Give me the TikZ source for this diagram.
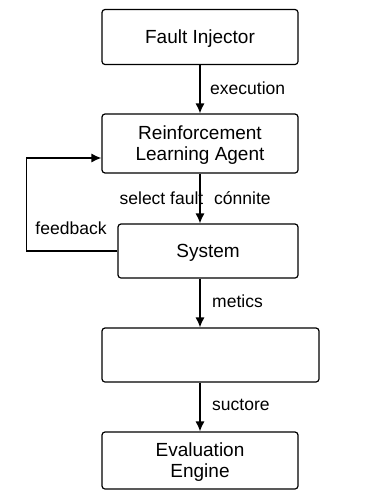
\documentclass[tikz,border=0pt]{standalone}
\usepackage{fontspec}
\setmainfont{Liberation Sans}
\usepackage{tikz}
\usetikzlibrary{arrows.meta}

\begin{document}
\begin{tikzpicture}[x=10bp, y=-10bp,
    box/.style={draw, line width=1.2bp, rounded corners=3bp, align=center, inner sep=0pt,
                text depth=0pt, font=\fontsize{19bp}{21bp}\selectfont},
    lbl/.style={inner sep=0pt, font=\fontsize{17.5bp}{20bp}\selectfont},
    flow/.style={-{Latex[length=10bp,width=9bp]}, line width=1.2bp}]
        \useasboundingbox (0,0) rectangle (37.4,49.4);                                               %
        \node [box, minimum width=196bp, minimum height=55bp] (fi)    at (20,3.7)   {Fault Injector};  %
        \node [box, minimum width=196bp, minimum height=59bp] (rl)    at (20,14.35) {Reinforcement\\Learning Agent};
        \node [box, minimum width=180bp, minimum height=54bp] (sys)   at (20.8,25.1) {System};        %
        \node [box, minimum width=217bp, minimum height=54bp] (blank) at (21.05,35.5) {};             %
        \node [box, minimum width=196bp, minimum height=57bp] (ev)    at (20,46.05) {Evaluation\\Engine};

        \node [lbl, anchor=west] (lexec) at (21,8.8)    {execution};                    %
        \node [lbl, anchor=east] (lsel)  at (20.35,19.8) {select fault};                %
        \node [lbl, anchor=west] (lcon)  at (21.4,19.8) {cónnite};                      %
        \node [lbl]              (lfb)   at (7.1,22.8)  {feedback};                     %
        \node [lbl, anchor=west] (lmet)  at (21.2,30.1) {metics};                       %
        \node [lbl, anchor=west] (lsco)  at (21.2,40.5) {suctore};                      %

        \draw [flow] (fi)   -- (rl);                                                   %execution
        \draw [flow] (rl)   -- (rl.south |- sys.north);                                %select fault
        \draw [flow] (sys.south -| rl.south) -- (blank.north -| rl.south);             %metrics
        \draw [flow] (blank.south -| rl.south) -- (ev);                                %score
        \draw [flow] (sys.west) -- ++(-9.1,0) |- ([yshift=-14.5bp]rl.west);            %feedback
\end{tikzpicture}
\end{document}
